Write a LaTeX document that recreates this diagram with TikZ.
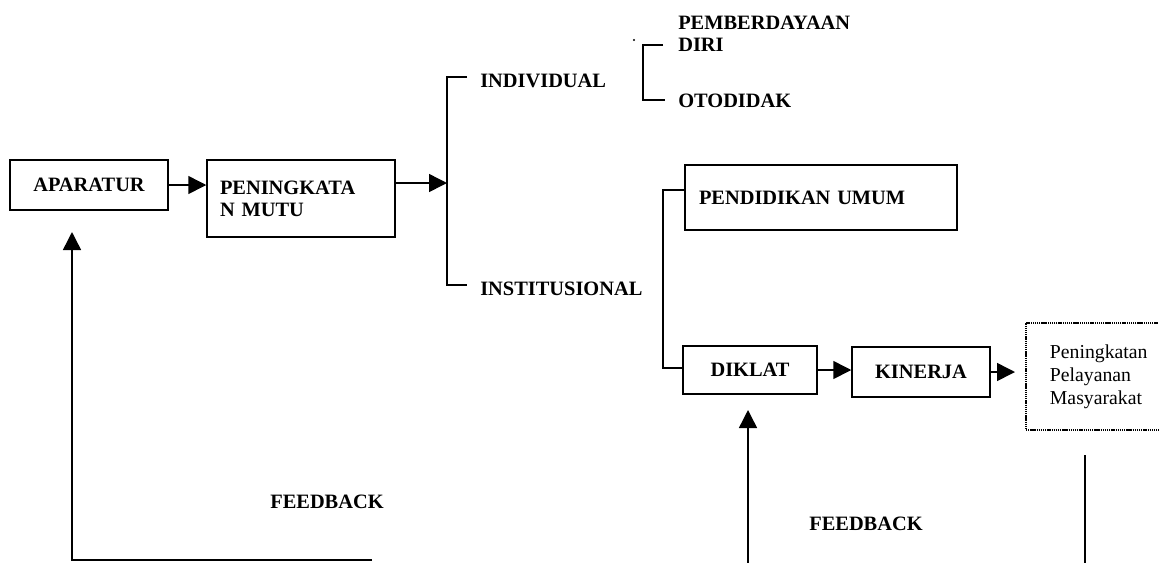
\documentclass[tikz,border=0pt]{standalone}
\usepackage{fontspec}
\setmainfont{Liberation Serif}
\usetikzlibrary{arrows.meta}
\newcommand\dgbig{\fontsize{15.3}{16.5}\selectfont\bfseries}
\newcommand\dgsmall{\fontsize{14.8}{17.3}\selectfont}
\begin{document}
\begin{tikzpicture}[x=0.75pt,y=-0.75pt,
  box/.style={draw, line width=1.1pt, inner sep=0pt, font=\dgbig},
  lbl/.style={font=\dgbig, inner sep=0pt},
  ln/.style={line width=1.1pt},
  arr/.style={line width=1.1pt, -{Triangle[length=13.5pt,width=13.5pt]}},
  dotbox/.style={draw, line width=1.4pt, dash pattern=on 1pt off 0.6pt, inner sep=0pt, font=\dgsmall}]
\useasboundingbox (0,0) rectangle (1159,562);

% boxes
\node[box, minimum width=118.5pt, minimum height=37.5pt] (apa) at (89,185) {APARATUR};
\node[box, minimum width=141pt, minimum height=57.75pt, text width=121.5pt, align=left, inner xsep=9.75pt] (pen) at (301,198.5) {PENINGKATA\\N MUTU};
\node[box, minimum width=204pt, minimum height=48.75pt, text width=183pt, align=left, inner xsep=10.5pt] (pend) at (821,197.5) {PENDIDIKAN UMUM};
\node[box, minimum width=100.5pt, minimum height=36pt] (dik) at (750,370) {DIKLAT};
\node[box, minimum width=103.5pt, minimum height=37.5pt] (kin) at (921,372) {KINERJA};
\node[dotbox, minimum width=112.5pt, minimum height=80.25pt, text width=76.5pt, inner xsep=18pt, align=left, anchor=west] (pel) at (1025,376.5) {Peningkatan\\Pelayanan\\Masyarakat};

% labels
\node[lbl, anchor=base west] (ind) at (480,87) {INDIVIDUAL};
\node[lbl, anchor=base west] (ins) at (480,295) {INSTITUSIONAL};
\node[lbl, anchor=west, align=left] (pem) at (678,34) {PEMBERDAYAAN\\DIRI};
\node[lbl, anchor=base west] (oto) at (678,107) {OTODIDAK};
\node[lbl, anchor=base] (fb1) at (327,508) {FEEDBACK};
\node[lbl, anchor=base] (fb2) at (866,530) {FEEDBACK};
\coordinate (dot) at (634,40);
\fill (dot) circle (1.2);

% coordinates
\coordinate (sp1) at (447,183);
\coordinate (b1t) at (467,77);
\coordinate (b1b) at (467,285);
\coordinate (b2t) at (663,45);
\coordinate (b2b) at (665,100);
\coordinate (sp2t) at (663,190);
\coordinate (sp2b) at (663,368);
\coordinate (ktip) at (1015,372);
\coordinate (fl1) at (372,560);
\coordinate (fl2) at (72,560);
\coordinate (fl3) at (72,232);
\coordinate (fr1) at (748,564);
\coordinate (fr2) at (748,410);
\coordinate (rv1) at (1085,455);
\coordinate (rv2) at (1085,564);

% connectors
\draw[arr] (apa.east) -- (apa.east -| pen.west);
\draw[arr] (pen.east |- sp1) -- (sp1);
\draw[ln] (b1t) -- (b1t -| sp1) -- (b1b -| sp1) -- (b1b);
\draw[ln] (b2t) -- ++(-20,0) |- (b2b);
\draw[ln] (pend.west |- sp2t) -- (sp2t) -- (sp2b) -- (sp2b -| dik.west);
\draw[arr] (dik.east) -- (dik.east -| kin.west);
\draw[arr] (kin.east) -- (ktip);
\draw[arr] (fl1) -- (fl2) -- (fl3);
\draw[arr] (fr1) -- (fr2);
\draw[ln] (rv1) -- (rv2);
\end{tikzpicture}
\end{document}
